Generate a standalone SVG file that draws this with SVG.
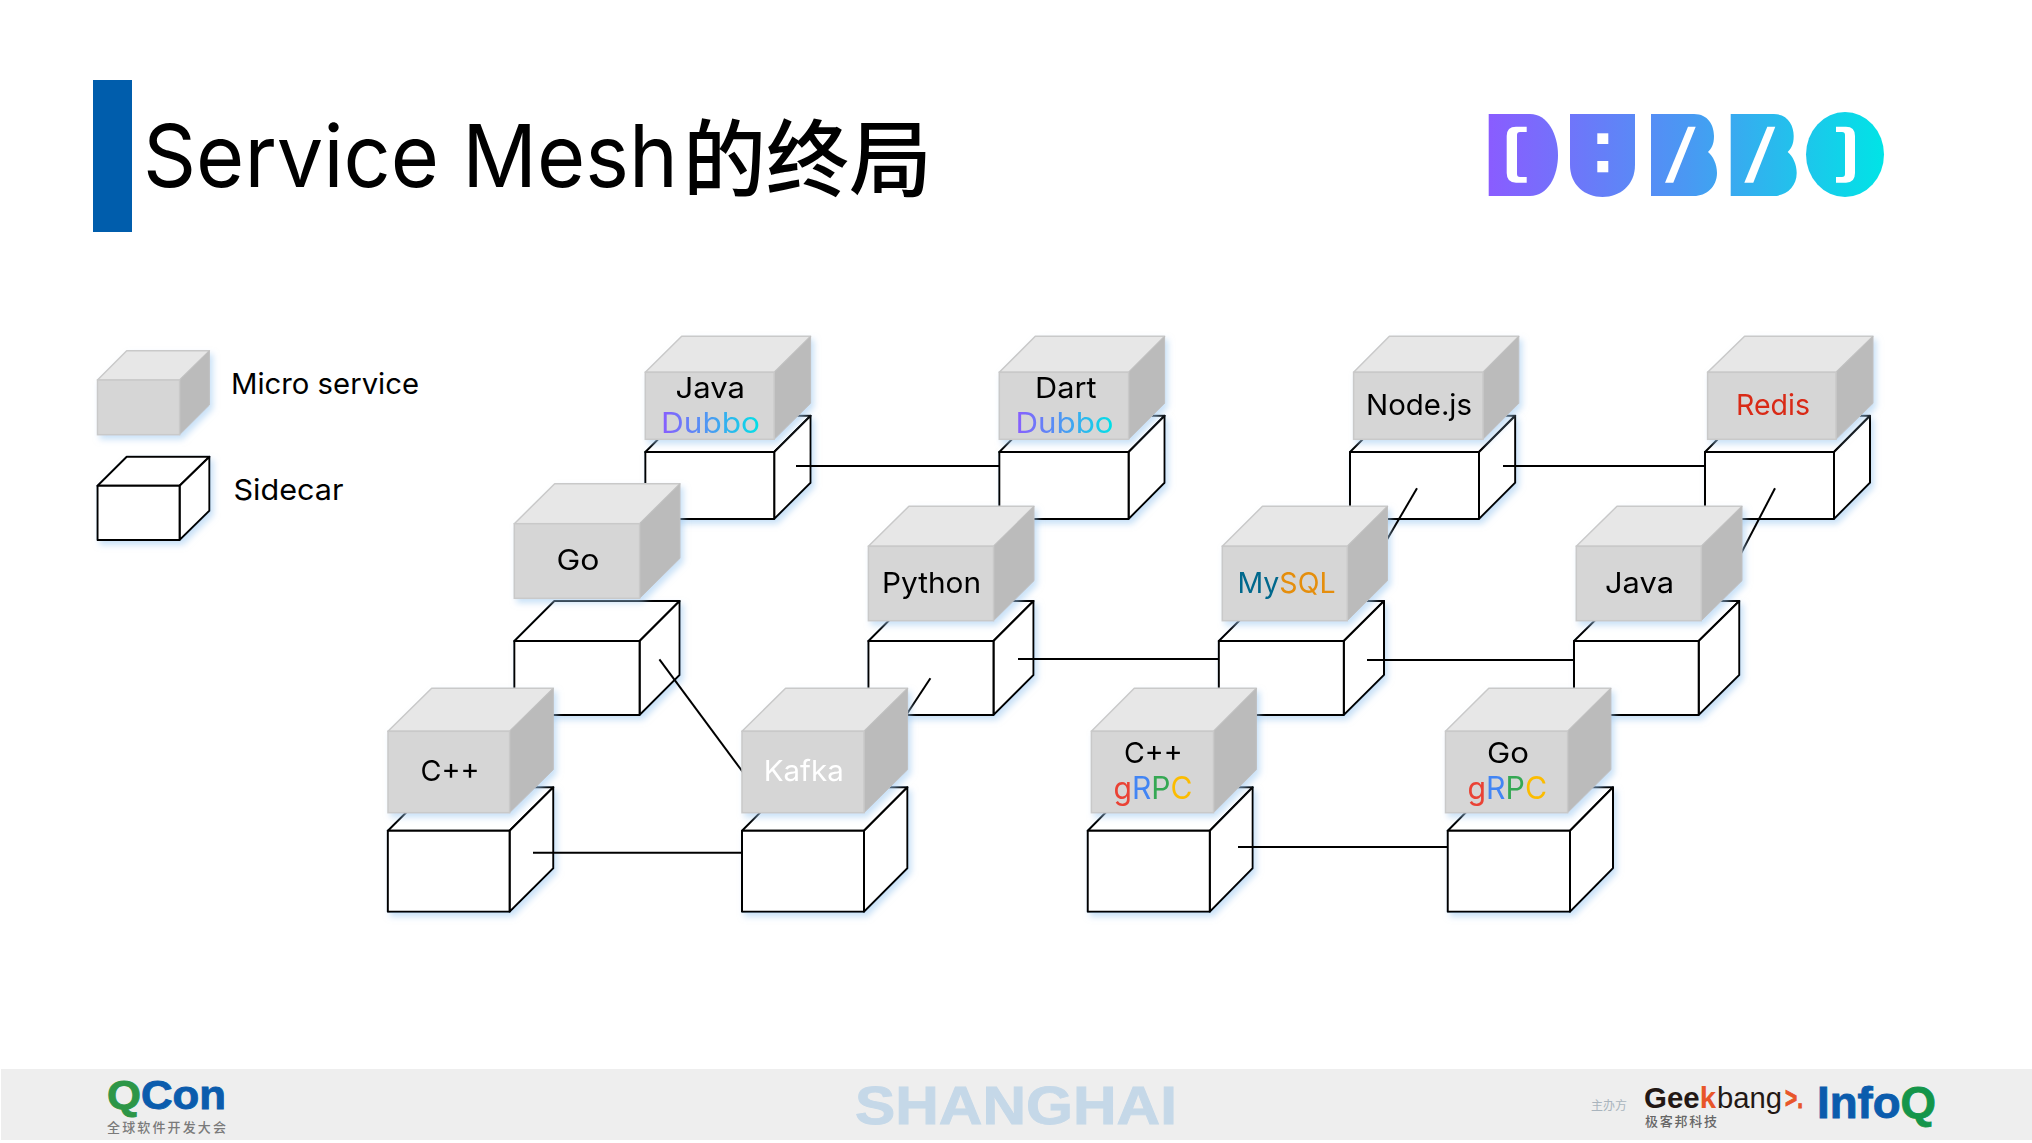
<svg xmlns="http://www.w3.org/2000/svg" width="2032" height="1143" viewBox="0 0 2032 1143">
<style>
text{font-family:"Inter","Noto Sans CJK SC",sans-serif;fill:#000}
.svc{filter:url(#glow)}
.svc rect{fill:#d6d6d6;stroke:#c9c9c9;stroke-width:1.5}
.svc .t{fill:#e7e7e7;stroke:#c9c9c9;stroke-width:1.5;stroke-linejoin:round}
.svc .r{fill:#bbb;stroke:#c0c0c0;stroke-width:1}
.svc text{font-size:29px}
.car{filter:url(#glow)}
.car rect,.car polygon{fill:#fff;stroke:#000;stroke-width:2;stroke-linejoin:round}
#connectors line{stroke:#000;stroke-width:2}
.lg{font-size:29px}
.b{font-family:"Liberation Sans","Noto Sans CJK SC",sans-serif;font-weight:700}
.cj{font-family:"Noto Sans CJK SC",sans-serif}
.du{fill:url(#dub)}
.dubbo{font-size:31px}
.hv{stroke-width:.9px;paint-order:stroke}
</style>
<defs>
<filter id="glow" x="-15%" y="-15%" width="135%" height="135%"><feDropShadow dx="3" dy="4" stdDeviation="3" flood-color="#9cc8f0" flood-opacity=".55"/></filter>
<linearGradient id="dub" x1="0" y1="0" x2="1" y2="0"><stop offset="0" stop-color="#8a5cff"/><stop offset=".5" stop-color="#4a9bf2"/><stop offset="1" stop-color="#00e2e6"/></linearGradient>
<linearGradient id="logo" gradientUnits="userSpaceOnUse" x1="1488" y1="0" x2="1884" y2="0"><stop offset="0" stop-color="#8a5cff"/><stop offset=".5" stop-color="#4a98f3"/><stop offset="1" stop-color="#00e4e6"/></linearGradient>
</defs>
<rect width="2032" height="1143" fill="#fff"/>

<g id="title">
<rect x="93" y="80" width="39" height="152" fill="#005dac"/>
<text x="143" y="187" font-size="87" textLength="535" lengthAdjust="spacingAndGlyphs">Service Mesh</text>
<text class="cj" x="683" y="190" font-size="84" font-weight="500" textLength="249" lengthAdjust="spacingAndGlyphs">的终局</text>
</g>

<g id="dubbo-logo" fill="url(#logo)">
<path d="M1488.7 114H1530C1548 114 1558 135 1558 155C1558 176 1548 196 1530 196H1488.7Z"/>
<path d="M1570 114H1635V165C1635 185 1620 197 1602.5 197C1585 197 1570 185 1570 165Z"/>
<path d="M1651 114H1694C1708 114 1714 125 1714 136C1714 145 1711 149 1708 152C1713 156 1717 164 1717 173C1717 187 1706 196 1694 196H1651Z"/>
<path d="M1730.7 114H1773.7C1787.7 114 1793.7 125 1793.7 136C1793.7 145 1790.7 149 1787.7 152C1792.7 156 1796.7 164 1796.7 173C1796.7 187 1785.7 196 1773.7 196H1730.7Z"/>
<ellipse cx="1845" cy="154.5" rx="39" ry="42.5"/>
<g fill="#fff">
<path d="M1526.7 126.7H1516Q1506.7 126.7 1506.7 136V173Q1506.7 182.7 1516 182.7H1526.7V177H1520Q1517 177 1517 174V135Q1517 132 1520 132H1526.7Z"/>
<rect x="1597.3" y="133.3" width="11" height="10.7"/><rect x="1597.3" y="161" width="11" height="11.3"/>
<polygon points="1688,126.7 1695.7,126.7 1673.3,182.7 1665,182.7"/>
<polygon points="1767.3,126.7 1775.3,126.7 1753.3,182.7 1744.3,182.7"/>
<path d="M1836 126.7H1846Q1855 126.7 1855 136V173Q1855 182.7 1846 182.7H1836V177H1842Q1845 177 1845 174V135Q1845 132 1842 132H1836Z"/>
</g>
</g>

<g id="legend-micro" class="svc">
<polygon class="t" points="97.5,380 179.6,380 209.4,350.7 126.7,350.7"/>
<polygon class="r" points="179.6,380 209.4,350.7 209.4,405 179.6,434.7"/>
<rect x="97.5" y="380" width="82.1" height="54.7"/>
</g>
<text class="lg" x="231" y="394" textLength="188" lengthAdjust="spacingAndGlyphs">Micro service</text>
<g id="legend-sidecar" class="car">
<polygon points="97.5,485.7 179.6,485.7 209.4,456.7 126.7,456.7"/>
<polygon points="179.6,485.7 209.4,456.7 209.4,510.7 179.6,540"/>
<rect x="97.5" y="485.7" width="82.1" height="54.3"/>
</g>
<text class="lg" x="233.5" y="500" textLength="110" lengthAdjust="spacingAndGlyphs">Sidecar</text>

<g id="sidecars">
<g id="sc-java" class="car"><polygon points="645.3,452 774.2,452 810.6,415.7 681.7,415.7"/><polygon points="774.2,452 810.6,415.7 810.6,482.7 774.2,519"/><rect x="645.3" y="452" width="128.9" height="67"/></g>
<g id="sc-dart" class="car"><polygon points="999.3,452 1128.6,452 1164.6,415.7 1035.3,415.7"/><polygon points="1128.6,452 1164.6,415.7 1164.6,482.7 1128.6,519"/><rect x="999.3" y="452" width="129.3" height="67"/></g>
<g id="sc-node" class="car"><polygon points="1350,452 1479,452 1515.2,415.7 1386.2,415.7"/><polygon points="1479,452 1515.2,415.7 1515.2,482.7 1479,519"/><rect x="1350" y="452" width="129" height="67"/></g>
<g id="sc-redis" class="car"><polygon points="1705,452 1834,452 1870,415.7 1741,415.7"/><polygon points="1834,452 1870,415.7 1870,482.7 1834,519"/><rect x="1705" y="452" width="129" height="67"/></g>
<g id="sc-go" class="car"><polygon points="514.3,641 639.6,641 679.6,601 554.3,601"/><polygon points="639.6,641 679.6,601 679.6,675 639.6,715"/><rect x="514.3" y="641" width="125.3" height="74"/></g>
<g id="sc-python" class="car"><polygon points="868.4,641 993.5,641 1033.5,601 908.4,601"/><polygon points="993.5,641 1033.5,601 1033.5,675 993.5,715"/><rect x="868.4" y="641" width="125.1" height="74"/></g>
<g id="sc-mysql" class="car"><polygon points="1218.8,641 1343.8,641 1384,601 1259,601"/><polygon points="1343.8,641 1384,601 1384,675 1343.8,715"/><rect x="1218.8" y="641" width="125" height="74"/></g>
<g id="sc-java2" class="car"><polygon points="1574,641 1698.7,641 1739.3,601 1614.6,601"/><polygon points="1698.7,641 1739.3,601 1739.3,675 1698.7,715"/><rect x="1574" y="641" width="124.7" height="74"/></g>
<g id="sc-cpp" class="car"><polygon points="387.8,830.7 509.6,830.7 553.3,787.3 431.5,787.3"/><polygon points="509.6,830.7 553.3,787.3 553.3,868.3 509.6,911.7"/><rect x="387.8" y="830.7" width="121.8" height="81"/></g>
<g id="sc-kafka" class="car"><polygon points="742,830.7 864,830.7 907.4,787.3 785.4,787.3"/><polygon points="864,830.7 907.4,787.3 907.4,868.3 864,911.7"/><rect x="742" y="830.7" width="122" height="81"/></g>
<g id="sc-cpp-grpc" class="car"><polygon points="1087.7,830.7 1209.8,830.7 1252.7,787.3 1130.6,787.3"/><polygon points="1209.8,830.7 1252.7,787.3 1252.7,868.3 1209.8,911.7"/><rect x="1087.7" y="830.7" width="122.1" height="81"/></g>
<g id="sc-go-grpc" class="car"><polygon points="1447.7,830.7 1570,830.7 1613,787.3 1490.7,787.3"/><polygon points="1570,830.7 1613,787.3 1613,868.3 1570,911.7"/><rect x="1447.7" y="830.7" width="122.3" height="81"/></g>
</g>

<g id="connectors">
<line x1="796" y1="466" x2="999" y2="466"/>
<line x1="1503" y1="466" x2="1705" y2="466"/>
<line x1="1018" y1="659" x2="1218" y2="659"/>
<line x1="1367" y1="660" x2="1574" y2="660"/>
<line x1="533" y1="852.7" x2="743" y2="852.7"/>
<line x1="1238" y1="847" x2="1447.7" y2="847"/>
<line x1="659.4" y1="659.3" x2="745" y2="775"/>
<line x1="930.4" y1="678.3" x2="895" y2="732"/>
<line x1="1417" y1="488.3" x2="1375" y2="560"/>
<line x1="1775" y1="488.3" x2="1735" y2="565"/>
</g>

<g id="services">
<g id="svc-java" class="svc"><polygon class="t" points="645.3,372.3 774.2,372.3 810.6,336.3 681.7,336.3"/><polygon class="r" points="774.2,372.3 810.6,336.3 810.6,403.3 774.2,439.3"/><rect x="645.3" y="372.3" width="128.9" height="67"/><text x="675.5" y="397.7" textLength="69.5" lengthAdjust="spacingAndGlyphs">Java</text><text class="du dubbo" x="661" y="432.7" textLength="99" lengthAdjust="spacingAndGlyphs">Dubbo</text></g>
<g id="svc-dart" class="svc"><polygon class="t" points="999.3,372.3 1128.6,372.3 1164.6,336.3 1035.3,336.3"/><polygon class="r" points="1128.6,372.3 1164.6,336.3 1164.6,403.3 1128.6,439.3"/><rect x="999.3" y="372.3" width="129.3" height="67"/><text x="1035" y="397.5" textLength="61.5" lengthAdjust="spacingAndGlyphs">Dart</text><text class="du dubbo" x="1015.5" y="432.7" textLength="98" lengthAdjust="spacingAndGlyphs">Dubbo</text></g>
<g id="svc-node" class="svc"><polygon class="t" points="1353.6,372.3 1483,372.3 1518.8,336.3 1389.4,336.3"/><polygon class="r" points="1483,372.3 1518.8,336.3 1518.8,403.3 1483,439.3"/><rect x="1353.6" y="372.3" width="129.4" height="67"/><text x="1366" y="415" textLength="106" lengthAdjust="spacingAndGlyphs">Node.js</text></g>
<g id="svc-redis" class="svc"><polygon class="t" points="1707.6,372.3 1836,372.3 1873,336.3 1744.6,336.3"/><polygon class="r" points="1836,372.3 1873,336.3 1873,403.3 1836,439.3"/><rect x="1707.6" y="372.3" width="128.4" height="67"/><text x="1736" y="415" textLength="74" lengthAdjust="spacingAndGlyphs" style="fill:#d92a18">Redis</text></g>
<g id="svc-go" class="svc"><polygon class="t" points="514.3,523.7 639.6,523.7 680,483.7 554.7,483.7"/><polygon class="r" points="639.6,523.7 680,483.7 680,558.3 639.6,598.3"/><rect x="514.3" y="523.7" width="125.3" height="74.6"/><text x="556.5" y="570" textLength="43" lengthAdjust="spacingAndGlyphs">Go</text></g>
<g id="svc-python" class="svc"><polygon class="t" points="868.4,546.3 993.5,546.3 1034,506.3 908.9,506.3"/><polygon class="r" points="993.5,546.3 1034,506.3 1034,580.7 993.5,620.7"/><rect x="868.4" y="546.3" width="125.1" height="74.4"/><text x="882" y="593" textLength="99" lengthAdjust="spacingAndGlyphs">Python</text></g>
<g id="svc-mysql" class="svc"><polygon class="t" points="1222.3,546.3 1347.3,546.3 1387.5,506.3 1262.5,506.3"/><polygon class="r" points="1347.3,546.3 1387.5,506.3 1387.5,580.7 1347.3,620.7"/><rect x="1222.3" y="546.3" width="125" height="74.4"/><text x="1237.5" y="593" textLength="98" lengthAdjust="spacingAndGlyphs"><tspan style="fill:#00678c">My</tspan><tspan style="fill:#e58e0a">SQL</tspan></text></g>
<g id="svc-java2" class="svc"><polygon class="t" points="1576.3,546.3 1701.3,546.3 1742,506.3 1617,506.3"/><polygon class="r" points="1701.3,546.3 1742,506.3 1742,580.7 1701.3,620.7"/><rect x="1576.3" y="546.3" width="125" height="74.4"/><text x="1605" y="593" textLength="69" lengthAdjust="spacingAndGlyphs">Java</text></g>
<g id="svc-cpp" class="svc"><polygon class="t" points="388,731.3 509.6,731.3 553.3,688.3 431.7,688.3"/><polygon class="r" points="509.6,731.3 553.3,688.3 553.3,769.7 509.6,812.7"/><rect x="388" y="731.3" width="121.6" height="81.4"/><text x="420.5" y="781" textLength="59" lengthAdjust="spacingAndGlyphs">C++</text></g>
<g id="svc-kafka" class="svc"><polygon class="t" points="742,731.3 864,731.3 907.6,688.3 785.6,688.3"/><polygon class="r" points="864,731.3 907.6,688.3 907.6,769.7 864,812.7"/><rect x="742" y="731.3" width="122" height="81.4"/><text x="763.7" y="781" textLength="80" lengthAdjust="spacingAndGlyphs" style="fill:#fff">Kafka</text></g>
<g id="svc-cpp-grpc" class="svc"><polygon class="t" points="1091.4,731.3 1213.5,731.3 1256.4,688.3 1134.3,688.3"/><polygon class="r" points="1213.5,731.3 1256.4,688.3 1256.4,769.7 1213.5,812.7"/><rect x="1091.4" y="731.3" width="122.1" height="81.4"/><text x="1124" y="762.7" textLength="58.5" lengthAdjust="spacingAndGlyphs">C++</text><text x="1113.5" y="799.3" textLength="79" style="font-size:31px" lengthAdjust="spacingAndGlyphs"><tspan style="fill:#ea4335">g</tspan><tspan style="fill:#4285f4">R</tspan><tspan style="fill:#34a853">P</tspan><tspan style="fill:#fbbc05">C</tspan></text></g>
<g id="svc-go-grpc" class="svc"><polygon class="t" points="1445.5,731.3 1567.6,731.3 1610.9,688.3 1488.8,688.3"/><polygon class="r" points="1567.6,731.3 1610.9,688.3 1610.9,769.7 1567.6,812.7"/><rect x="1445.5" y="731.3" width="122.1" height="81.4"/><text x="1487" y="762.7" textLength="42" lengthAdjust="spacingAndGlyphs">Go</text><text x="1467.5" y="799.3" textLength="79.5" style="font-size:31px" lengthAdjust="spacingAndGlyphs"><tspan style="fill:#ea4335">g</tspan><tspan style="fill:#4285f4">R</tspan><tspan style="fill:#34a853">P</tspan><tspan style="fill:#fbbc05">C</tspan></text></g>
</g>

<g id="footer">
<rect x="1" y="1069" width="2031" height="71" fill="#eee"/>
<text class="b hv" x="107" y="1109" font-size="40" textLength="119" lengthAdjust="spacingAndGlyphs"><tspan style="fill:#2d9647;stroke:#2d9647">Q</tspan><tspan style="fill:#0b5cad;stroke:#0b5cad">Con</tspan></text>
<text class="cj" x="107" y="1132" font-size="13" font-weight="500" textLength="119" style="fill:#7a7a7a">全球软件开发大会</text>
<text class="b hv" x="855" y="1124" font-size="53" textLength="322" lengthAdjust="spacingAndGlyphs" style="fill:#c5d8e8;stroke:#c5d8e8">SHANGHAI</text>
<text class="cj" x="1591" y="1110" font-size="12" textLength="36" style="fill:#a9b4bd">主办方</text>
<text class="b" x="1644" y="1108" font-size="30" textLength="72" lengthAdjust="spacingAndGlyphs" style="fill:#231815">Gee<tspan style="fill:#e8562a">k</tspan></text>
<text x="1717" y="1108" font-size="30" textLength="65" lengthAdjust="spacingAndGlyphs" style="fill:#231815;font-family:'Liberation Sans',sans-serif">bang</text>
<text class="b hv" x="1785" y="1108" font-size="30" textLength="18" lengthAdjust="spacingAndGlyphs" style="fill:#e8562a;stroke:#e8562a">&gt;.</text>
<text class="cj" x="1645" y="1126" font-size="13" font-weight="500" textLength="72" style="fill:#666">极客邦科技</text>
<text class="b hv" x="1817" y="1118" font-size="44" textLength="119" lengthAdjust="spacingAndGlyphs"><tspan style="fill:#0b5cad;stroke:#0b5cad">Info</tspan><tspan style="fill:#14954a;stroke:#14954a">Q</tspan></text>
</g>
</svg>
